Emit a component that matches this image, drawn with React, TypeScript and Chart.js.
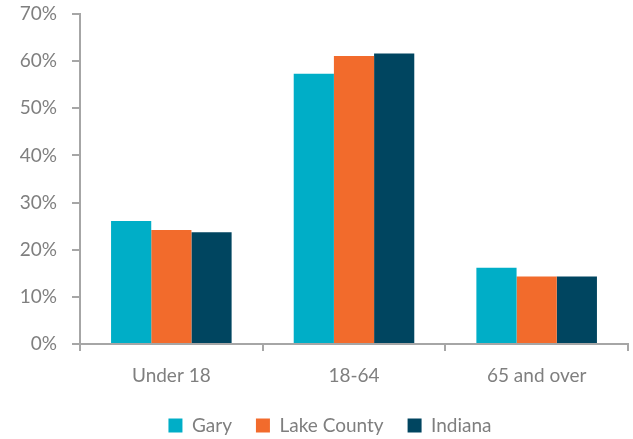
import React, { useEffect, useRef } from "react";
import { Chart, registerables } from "chart.js";

Chart.register(...registerables);

const categories = ["Under 18", "18-64", "65 and over"];
const gary = [26.1, 57.3, 16.2];
const lakeCounty = [24.2, 61.1, 14.3];
const indiana = [23.7, 61.6, 14.3];
const yTicks = [0, 10, 20, 30, 40, 50, 60, 70];

const TEXT = "#7f7f7f";
const AXIS = "#a6a6a6";
const FONT = "Lato, 'DejaVu Sans', sans-serif";

const legendShift = {
  id: "legendShift",
  afterLayout(chart: any) {
    if (chart.legend) chart.legend.left = 32;
  },
};

export default function App() {
  const ref = useRef<HTMLCanvasElement | null>(null);
  useEffect(() => {
    document.body.style.margin = "0";
    if (!ref.current) return;
    const chart = new Chart(ref.current, {
      type: "bar",
      data: {
        labels: categories,
        datasets: [
          { label: "Gary", data: gary, backgroundColor: "#00AEC7" },
          { label: "Lake County", data: lakeCounty, backgroundColor: "#F26B2C" },
          { label: "Indiana", data: indiana, backgroundColor: "#004560" },
        ],
      },
      plugins: [legendShift],
      options: {
        animation: false,
        responsive: true,
        maintainAspectRatio: false,
        layout: { padding: { left: 0, right: 5, top: 14, bottom: -6 } },
        datasets: { bar: { categoryPercentage: 0.66, barPercentage: 1.0 } },
        plugins: {
          tooltip: { enabled: false },
          legend: {
            position: "bottom",
            labels: {
              color: TEXT,
              font: { family: FONT, size: 19 },
              boxWidth: 14,
              boxHeight: 14,
              padding: 24,
            },
          },
        },
        scales: {
          x: {
            grid: {
              display: true,
              drawOnChartArea: false,
              drawTicks: true,
              tickLength: 7,
              color: AXIS,
              lineWidth: 2,
              offset: true,
            },
            border: { display: true, color: AXIS, width: 2 },
            ticks: { color: TEXT, font: { family: FONT, size: 19 }, padding: 13 },
            afterFit: (s: any) => { s.height = 48; },
          },
          y: {
            min: 0,
            max: 70,
            afterBuildTicks: (s: any) => { s.ticks = yTicks.map((v) => ({ value: v })); },
            grid: {
              display: true,
              drawOnChartArea: false,
              drawTicks: true,
              tickLength: 8,
              color: AXIS,
              lineWidth: 2,
            },
            border: { display: true, color: AXIS, width: 2 },
            ticks: {
              color: TEXT,
              font: { family: FONT, size: 19 },
              padding: 15,
              callback: (v: any) => v + "%",
            },
            afterFit: (s: any) => {
              s.width = 80;
              s.paddingTop = 0;
              s.paddingBottom = 0;
            },
          },
        },
      },
    });
    return () => chart.destroy();
  }, []);
  return (
    <div style={{ position: "relative", width: 633, height: 439 }}>
      <canvas ref={ref} />
    </div>
  );
}
